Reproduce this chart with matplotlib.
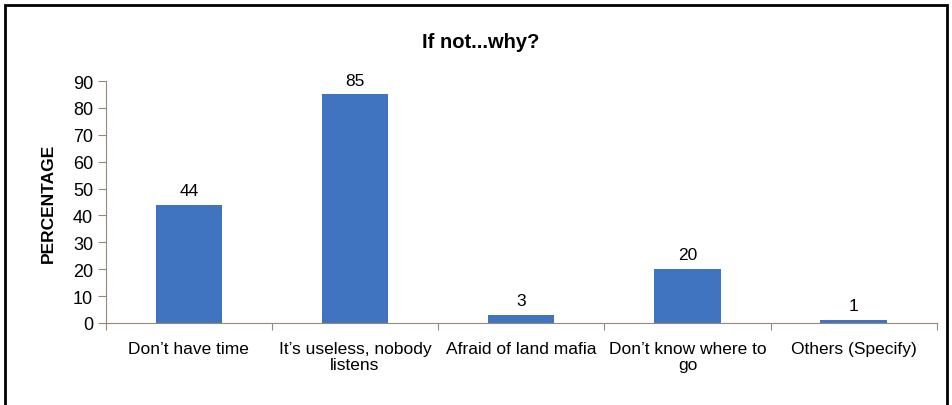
import matplotlib.pyplot as plt
from matplotlib.patches import Rectangle

categories = ["Don’t have time", "It’s useless, nobody\nlistens", "Afraid of land mafia",
              "Don’t know where to\ngo", "Others (Specify)"]
values = [44, 85, 3, 20, 1]
yticks = [0, 10, 20, 30, 40, 50, 60, 70, 80, 90]

plt.rcParams['font.family'] = ['Liberation Sans', 'DejaVu Sans']

fig = plt.figure(figsize=(9.52, 4.06), dpi=100)
ax = fig.add_axes([0.111, 0.202, 0.873, 0.596])

x = list(range(len(values)))
bars = ax.bar(x, values, width=0.4, color='#4074C1')
for xi, v in zip(x, values):
    ax.annotate(str(v), (xi, v), xytext=(0, 5), textcoords='offset points',
                ha='center', va='bottom', fontsize=12.5)

ax.set_xlim(-0.5, len(values) - 0.5)
ax.set_ylim(0, 90)
ax.set_yticks(yticks)
ax.tick_params(axis='y', labelsize=13, length=6, color='#998877', pad=3)
ax.set_xticks([i - 0.5 for i in range(len(values) + 1)], minor=False)
ax.set_xticklabels([])
ax.set_xticks(x, minor=True)
ax.set_xticklabels(categories, minor=True, fontsize=12.5, linespacing=1.1)
ax.tick_params(axis='x', which='major', length=5, color='#998877', direction='out')
ax.tick_params(axis='x', which='minor', length=0, pad=13)

for s in ['top', 'right']:
    ax.spines[s].set_visible(False)
for s in ['left', 'bottom']:
    ax.spines[s].set_color('#998877')

ax.set_ylabel('PERCENTAGE', fontsize=12.5, fontweight='bold', labelpad=12)
fig.text(0.505, 0.895, 'If not...why?', ha='center', va='center', fontsize=14.5, fontweight='bold')

fig.patches.append(Rectangle((0.005, -0.05), 0.99, 1.035, transform=fig.transFigure,
                             fill=False, edgecolor='black', linewidth=2))

fig.savefig('out.png', dpi=100)
